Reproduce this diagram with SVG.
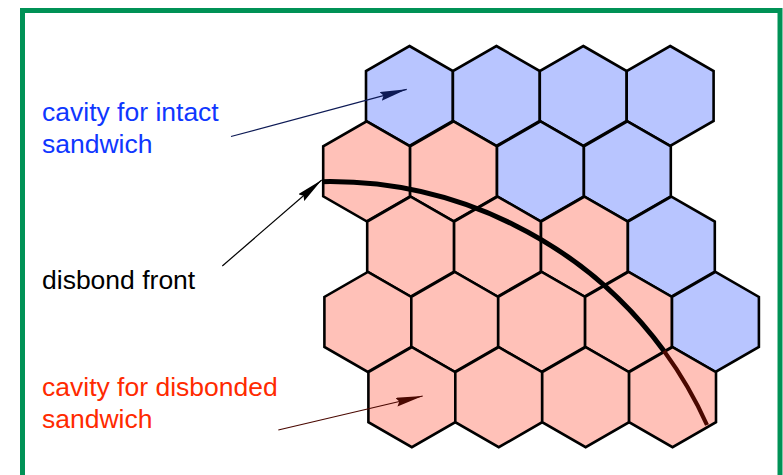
<svg xmlns="http://www.w3.org/2000/svg" xmlns:xlink="http://www.w3.org/1999/xlink" width="783" height="475" viewBox="0 0 783 475">
  <style>
    .frame { fill: #ffffff; stroke: #009256; stroke-width: 5; }
    .cell { stroke: #000000; stroke-width: 2.6; stroke-linejoin: miter; }
    .intact { fill: #b8c5ff; }
    .disbonded { fill: #ffc1b8; }
    .label { font-family: "Liberation Sans", Arial, Helvetica, sans-serif; font-size: 26.5px; }
    .blue { fill: #0f37ff; }
    .red { fill: #ff2a00; }
    .black { fill: #000000; }
    .lead { fill: none; stroke-width: 1.2; }
  </style>
  <defs>
    <!-- regular pointy-top honeycomb cell, centred on the origin -->
    <polygon id="hex" points="0,-50 43.45,-25 43.45,25 0,50 -43.45,25 -43.45,-25"/>
    <marker id="head-navy" markerUnits="userSpaceOnUse" markerWidth="28" markerHeight="10" refX="27" refY="4.5" orient="auto">
      <path d="M0,0 L27,4.5 L0,9 L3,4.5 z" fill="#0d1a55"/>
    </marker>
    <marker id="head-black" markerUnits="userSpaceOnUse" markerWidth="28" markerHeight="10" refX="27" refY="4.5" orient="auto">
      <path d="M0,0 L27,4.5 L0,9 L3,4.5 z" fill="#000000"/>
    </marker>
    <marker id="head-maroon" markerUnits="userSpaceOnUse" markerWidth="28" markerHeight="10" refX="27" refY="4.5" orient="auto">
      <path d="M0,0 L27,4.5 L0,9 L3,4.5 z" fill="#4a0800"/>
    </marker>
  </defs>

  <!-- outer frame -->
  <rect class="frame" x="22.5" y="10.5" width="757.5" height="500"/>

  <!-- honeycomb core, row by row -->
  <g id="honeycomb">
    <g id="cell-r0-c0"><use xlink:href="#hex" href="#hex" class="cell intact" transform="translate(409.45,96)"/></g>
    <g id="cell-r0-c1"><use xlink:href="#hex" href="#hex" class="cell intact" transform="translate(496.35,96)"/></g>
    <g id="cell-r0-c2"><use xlink:href="#hex" href="#hex" class="cell intact" transform="translate(583.25,96)"/></g>
    <g id="cell-r0-c3"><use xlink:href="#hex" href="#hex" class="cell intact" transform="translate(670.15,96)"/></g>

    <g id="cell-r1-c0"><use xlink:href="#hex" href="#hex" class="cell disbonded" transform="translate(366.65,171.3)"/></g>
    <g id="cell-r1-c1"><use xlink:href="#hex" href="#hex" class="cell disbonded" transform="translate(453.55,171.3)"/></g>
    <g id="cell-r1-c2"><use xlink:href="#hex" href="#hex" class="cell intact" transform="translate(540.45,171.3)"/></g>
    <g id="cell-r1-c3"><use xlink:href="#hex" href="#hex" class="cell intact" transform="translate(627.35,171.3)"/></g>

    <g id="cell-r2-c0"><use xlink:href="#hex" href="#hex" class="cell disbonded" transform="translate(410.65,246.6)"/></g>
    <g id="cell-r2-c1"><use xlink:href="#hex" href="#hex" class="cell disbonded" transform="translate(497.55,246.6)"/></g>
    <g id="cell-r2-c2"><use xlink:href="#hex" href="#hex" class="cell disbonded" transform="translate(584.45,246.6)"/></g>
    <g id="cell-r2-c3"><use xlink:href="#hex" href="#hex" class="cell intact" transform="translate(671.35,246.6)"/></g>

    <g id="cell-r3-c0"><use xlink:href="#hex" href="#hex" class="cell disbonded" transform="translate(367.85,321.9)"/></g>
    <g id="cell-r3-c1"><use xlink:href="#hex" href="#hex" class="cell disbonded" transform="translate(454.75,321.9)"/></g>
    <g id="cell-r3-c2"><use xlink:href="#hex" href="#hex" class="cell disbonded" transform="translate(541.65,321.9)"/></g>
    <g id="cell-r3-c3"><use xlink:href="#hex" href="#hex" class="cell disbonded" transform="translate(628.55,321.9)"/></g>
    <g id="cell-r3-c4"><use xlink:href="#hex" href="#hex" class="cell intact" transform="translate(715.45,321.9)"/></g>

    <g id="cell-r4-c0"><use xlink:href="#hex" href="#hex" class="cell disbonded" transform="translate(411.85,397.2)"/></g>
    <g id="cell-r4-c1"><use xlink:href="#hex" href="#hex" class="cell disbonded" transform="translate(498.75,397.2)"/></g>
    <g id="cell-r4-c2"><use xlink:href="#hex" href="#hex" class="cell disbonded" transform="translate(585.65,397.2)"/></g>
    <g id="cell-r4-c3"><use xlink:href="#hex" href="#hex" class="cell disbonded" transform="translate(672.55,397.2)"/></g>
  </g>

  <!-- disbond front: circular arc across the core -->
  <g id="disbond-front">
    <path d="M322,181.7 A414.4,414.4 0 0 1 664,351" fill="none" stroke="#000000" stroke-width="5"/>
    <path d="M664,351 A414.4,414.4 0 0 1 707,425" fill="none" stroke="#4a0800" stroke-width="4.2"/>
  </g>

  <!-- text labels -->
  <g id="label-intact">
    <text class="label blue" x="42" y="120.5">cavity for intact</text>
    <text class="label blue" x="42" y="152.5">sandwich</text>
  </g>
  <g id="label-front">
    <text class="label black" x="42" y="289">disbond front</text>
  </g>
  <g id="label-disbonded">
    <text class="label red" x="42" y="395.5">cavity for disbonded</text>
    <text class="label red" x="42" y="427.5">sandwich</text>
  </g>

  <!-- leader arrows -->
  <g id="connectors">
    <line class="lead" x1="231" y1="136.5" x2="406.7" y2="89.3" stroke="#0d1a55" marker-end="url(#head-navy)"/>
    <line class="lead" x1="222.3" y1="266" x2="321.7" y2="180" stroke="#000000" marker-end="url(#head-black)"/>
    <line class="lead" x1="278.3" y1="430" x2="422.7" y2="396" stroke="#4a0800" marker-end="url(#head-maroon)"/>
  </g>
</svg>
